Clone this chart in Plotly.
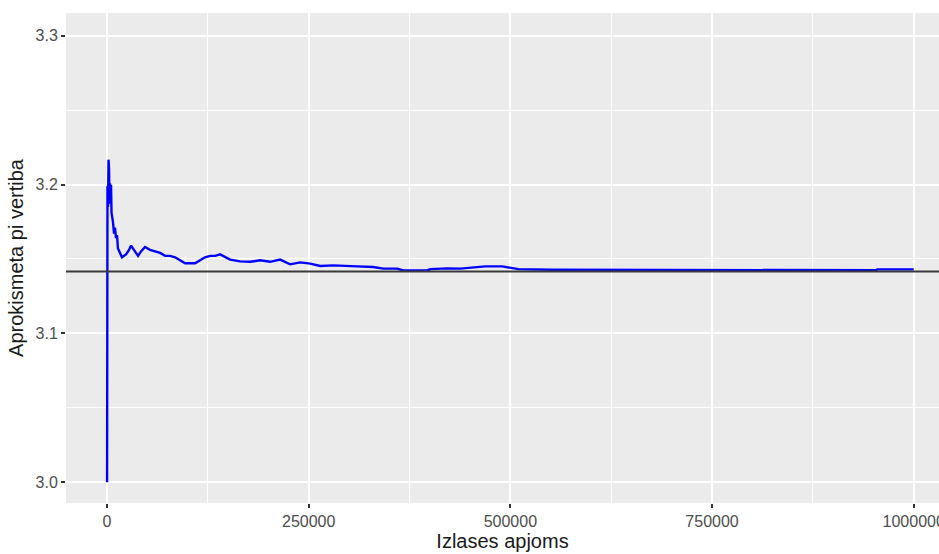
import math
import plotly.graph_objects as go

# Sample size (n) and running pi estimate
sample_size = [
    100, 600, 1200, 1900, 2500, 3100, 3700, 4300, 5000, 5600, 6200, 7400,
    8700, 9900, 11200, 12400, 13600, 16100, 18600, 21100, 23600, 27300,
    29800, 32300, 36000, 38500, 42200, 47100, 53300, 59600, 65800, 72000,
    78200, 84400, 90600, 96800, 103000, 109200, 115400, 121600, 127800,
    134000, 140200, 146400, 152600, 165000, 177400, 189800, 202200, 214600,
    227000, 239500, 251900, 264300, 280400, 310200, 330000, 342400, 359800,
    367200, 397000, 400700, 421800, 438000, 469000, 490000, 510000, 550000,
    612000, 721000, 723000, 953000, 955000, 1000000,
]
pi_estimate = [
    3.0000, 3.1988, 3.1849, 3.2167, 3.2107, 3.1889, 3.2008, 3.1869, 3.1998,
    3.1809, 3.1769, 3.1749, 3.1670, 3.1710, 3.1640, 3.1660, 3.1570, 3.1541,
    3.1511, 3.1521, 3.1531, 3.1561, 3.1590, 3.1570, 3.1541, 3.1521, 3.1551,
    3.1580, 3.1561, 3.1551, 3.1541, 3.1521, 3.1521, 3.1511, 3.1491, 3.1471,
    3.1471, 3.1471, 3.1491, 3.1511, 3.1521, 3.1521, 3.1531, 3.1511, 3.1496,
    3.1484, 3.1481, 3.1491, 3.1481, 3.1496, 3.1464, 3.1477, 3.1469, 3.1453,
    3.1457, 3.1450, 3.1446, 3.1435, 3.1435, 3.1423, 3.1423, 3.1432, 3.1437,
    3.1435, 3.1450, 3.1450, 3.1432, 3.1428, 3.1428, 3.1428, 3.1424, 3.1424,
    3.1430, 3.1430,
]
true_pi = math.pi

x_ticks = [0, 250000, 500000, 750000, 1000000]
y_ticks = [3.0, 3.1, 3.2, 3.3]

FONT = "Liberation Sans, Arial, sans-serif"

fig = go.Figure()
fig.add_trace(go.Scatter(
    x=sample_size, y=pi_estimate, mode="lines",
    line=dict(color="#0000FF", width=2.4), showlegend=False,
))
fig.add_hline(y=true_pi, line=dict(color="#3a3a3a", width=2), layer="above")

fig.update_layout(
    width=939, height=554,
    margin=dict(l=66, r=0, t=13, b=51, autoexpand=False),
    paper_bgcolor="white", plot_bgcolor="#EBEBEB",
    font=dict(family=FONT),
    showlegend=False,
)
fig.update_xaxes(
    automargin=False,
    range=[-50824, 1031362],
    tickvals=x_ticks, ticktext=[str(v) for v in x_ticks],
    ticks="outside", ticklen=4, tickwidth=1.5, tickcolor="#333333",
    tickfont=dict(size=16, color="#4D4D4D", family=FONT),
    showgrid=True, gridcolor="white", gridwidth=2,
    minor=dict(dtick=125000, tick0=0, showgrid=True, gridcolor="white", gridwidth=1, ticklen=0),
    zeroline=False, showline=False,
    ticklabeloverflow="allow",
    title=dict(text="Izlases apjoms", font=dict(size=20, color="#1a1a1a", family=FONT), standoff=4),
)
fig.update_yaxes(
    automargin=False,
    range=[2.9861, 3.3152],
    tickvals=y_ticks, ticktext=[f"{v:.1f}" for v in y_ticks],
    ticks="outside", ticklen=4, tickwidth=1.5, tickcolor="#333333",
    tickfont=dict(size=16, color="#4D4D4D", family=FONT),
    showgrid=True, gridcolor="white", gridwidth=2,
    minor=dict(dtick=0.05, tick0=3.0, showgrid=True, gridcolor="white", gridwidth=1, ticklen=0),
    zeroline=False, showline=False,
    title=dict(text="Aprokismeta pi vertiba", font=dict(size=20, color="#1a1a1a", family=FONT), standoff=6),
)

fig.write_html("out.html")
